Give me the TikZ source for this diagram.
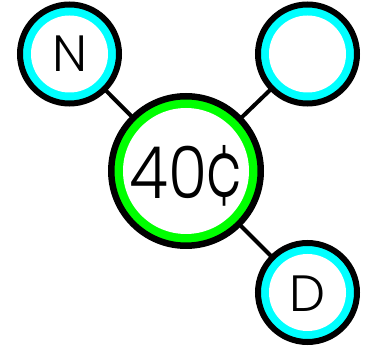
\documentclass[tikz,border=0pt]{standalone}
\usepackage{fontspec}
\setmainfont{Poppins Light}
\definecolor{ringcyan}{RGB}{0,255,255}
\definecolor{ringgreen}{RGB}{0,255,0}
\begin{document}
\begin{tikzpicture}[x=1pt,y=-1pt,
  coin/.style={circle,inner sep=0pt,draw=black,line width=6pt,minimum size=99pt,fill=ringcyan,
    path picture={\fill[white] (path picture bounding box.center) circle (38.5pt);}},
  bigcoin/.style={circle,inner sep=0pt,draw=black,line width=6.5pt,minimum size=149.5pt,fill=ringgreen,
    path picture={\fill[white] (path picture bounding box.center) circle (63pt);}},
  link/.style={line width=4pt,black},
  lbl/.style={anchor=base,inner sep=0pt,font=\fontsize{51}{51}\selectfont},
  biglbl/.style={anchor=base,inner sep=0pt,font=\fontsize{72}{72}\selectfont}]
\useasboundingbox (0,0) rectangle (367,347);
\coordinate (cc) at (186,171);
\coordinate (cn) at (69.5,54);
\coordinate (cq) at (307.5,54);
\coordinate (cd) at (307.5,292.5);
\draw[link] (cc) -- (cn);
\draw[link] (cc) -- (cq);
\draw[link] (cc) -- (cd);
\node[bigcoin] (c) at (cc) {};
\node[coin] (n) at (cn) {};
\node[coin] (q) at (cq) {};
\node[coin] (d) at (cd) {};
\node[biglbl] (t1) at (187,199) {\scalebox{0.88}[1]{40}\kern-2pt\scalebox{0.85}[1.2]{¢}};
\node[lbl] (t2) at (69.5,72) {N};
\node[lbl] (t3) at (307.5,312) {D};
\end{tikzpicture}
\end{document}
